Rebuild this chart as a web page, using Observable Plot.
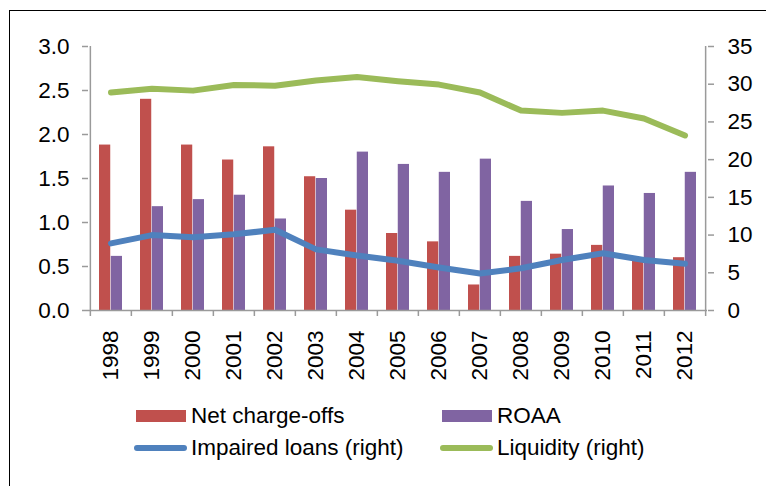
<!DOCTYPE html>
<html>
<head>
<meta charset="utf-8">
<script src="https://cdn.jsdelivr.net/npm/d3@7"></script>
<script src="https://cdn.jsdelivr.net/npm/@observablehq/plot@0.6"></script>
<style>
  html, body { margin: 0; padding: 0; background: #fff; }
  body { width: 766px; height: 486px; overflow: hidden; position: relative; font-family: "Liberation Sans", Arial, sans-serif; }
  #frame { position: absolute; left: 9px; top: 10px; width: 820px; height: 540px; border: 1.5px solid #000; box-sizing: border-box; }
  #chart { position: absolute; left: 0; top: 0; }
  .lg { position: absolute; font-size: 22.5px; color: #000; line-height: 26px; white-space: nowrap; }
  .sw { position: absolute; }
</style>
</head>
<body>
<div id="frame"></div>
<div id="chart"></div>
<div id="legend"></div>
<script>
const years = ["1998","1999","2000","2001","2002","2003","2004","2005","2006","2007","2008","2009","2010","2011","2012"];
const netChargeOffs = [1.88, 2.40, 1.88, 1.71, 1.86, 1.52, 1.14, 0.875, 0.78, 0.29, 0.615, 0.64, 0.74, 0.59, 0.60];
const roaa = [0.615, 1.18, 1.26, 1.31, 1.04, 1.50, 1.80, 1.66, 1.57, 1.72, 1.24, 0.92, 1.415, 1.33, 1.57];
const impairedLoans = [8.9, 10.0, 9.7, 10.1, 10.7, 8.1, 7.3, 6.6, 5.7, 4.9, 5.6, 6.7, 7.6, 6.7, 6.2];
const liquidity = [28.9, 29.4, 29.15, 29.9, 29.8, 30.5, 30.95, 30.4, 29.95, 28.9, 26.5, 26.2, 26.5, 25.45, 23.2];
const leftTicks = [0, 0.5, 1.0, 1.5, 2.0, 2.5, 3.0];
const rightTicks = [0, 5, 10, 15, 20, 25, 30, 35];
const seriesNames = ["Net charge-offs", "ROAA", "Impaired loans (right)", "Liquidity (right)"];
const colors = ["#C0504D", "#8064A2", "#4F81BD", "#9BBB59"];

const leftMax = 3, rightMax = 35;
const k = leftMax / rightMax; // right-axis units -> left-axis units

const rows = years.map((y, i) => ({
  year: y, nco: netChargeOffs[i], roaa: roaa[i], imp: impairedLoans[i], liq: liquidity[i]
}));

const W = 766, H = 392;
const mL = 88, mR = 59, mT = 46, mB = H - 310;
const step = (W - mL - mR) / years.length;
const padInner = 0.43;
const halfBar = step * (1 - padInner) / 2;
const axisGray = "#9a9a9a";

const chart = Plot.plot({
  width: W,
  height: H,
  marginLeft: mL,
  marginRight: mR,
  marginTop: mT,
  marginBottom: mB,
  style: { fontSize: "22.5px", fontFamily: "'Liberation Sans', Arial, sans-serif", color: "#000", background: "transparent" },
  x: { type: "band", domain: years, paddingInner: padInner, paddingOuter: padInner / 2, label: null },
  y: { domain: [0, leftMax], label: null },
  marks: [
    Plot.barY(rows, { x: "year", y: "nco", fill: colors[0], insetRight: halfBar }),
    Plot.barY(rows, { x: "year", y: "roaa", fill: colors[1], insetLeft: halfBar }),
    Plot.lineY(rows, { x: "year", y: d => d.liq * k, stroke: colors[3], strokeWidth: 6, strokeLinejoin: "round", strokeLinecap: "round" }),
    Plot.lineY(rows, { x: "year", y: d => d.imp * k, stroke: colors[2], strokeWidth: 6, strokeLinejoin: "round", strokeLinecap: "round" }),
    // axis lines
    Plot.ruleY([0], { stroke: axisGray, strokeWidth: 1.5 }),
    Plot.ruleX([years[0]], { y1: 0, y2: leftMax, dx: -step / 2, stroke: axisGray, strokeWidth: 1.5 }),
    Plot.ruleX([years[years.length - 1]], { y1: 0, y2: leftMax, dx: step / 2, stroke: axisGray, strokeWidth: 1.5 }),
    // left axis
    Plot.axisY({ ticks: leftTicks, tickFormat: d3.format(".1f"), tickSize: 6, tickPadding: 13, stroke: axisGray, strokeWidth: 1.5, fill: "#000" }),
    // right axis
    Plot.axisY({ anchor: "right", ticks: rightTicks.map(v => v * k), tickFormat: v => String(Math.round(v / k)), tickSize: 6, tickPadding: 14, stroke: axisGray, strokeWidth: 1.5, fill: "#000" }),
    // category boundary ticks
    Plot.axisX({ ticks: years, tickSize: 6, tickFormat: () => "", dx: -step / 2, stroke: axisGray, strokeWidth: 1.5 }),
    Plot.axisX({ ticks: [years[years.length - 1]], tickSize: 6, tickFormat: () => "", dx: step / 2, stroke: axisGray, strokeWidth: 1.5 }),
    // year labels
    Plot.axisX({ ticks: years, tickSize: 0, tickRotate: -90, tickPadding: 20, fill: "#000" })
  ]
});
document.getElementById("chart").appendChild(chart);

// legend
const legend = document.getElementById("legend");
const items = [
  { name: seriesNames[0], color: colors[0], kind: "bar", sx: 136, tx: 191, cy: 416 },
  { name: seriesNames[1], color: colors[1], kind: "bar", sx: 442, tx: 497, cy: 416 },
  { name: seriesNames[2], color: colors[2], kind: "line", sx: 134, tx: 191, cy: 448 },
  { name: seriesNames[3], color: colors[3], kind: "line", sx: 440, tx: 497, cy: 448 }
];
items.forEach(it => {
  const sw = document.createElement("div");
  sw.className = "sw";
  if (it.kind === "bar") {
    sw.style.cssText = `left:${it.sx}px;top:${it.cy - 6}px;width:50px;height:12px;background:${it.color};`;
  } else {
    sw.style.cssText = `left:${it.sx}px;top:${it.cy - 3}px;width:53px;height:6px;border-radius:3px;background:${it.color};`;
  }
  legend.appendChild(sw);
  const t = document.createElement("div");
  t.className = "lg";
  t.textContent = it.name;
  t.style.left = it.tx + "px";
  t.style.top = (it.cy - 13) + "px";
  legend.appendChild(t);
});
</script>
</body>
</html>
